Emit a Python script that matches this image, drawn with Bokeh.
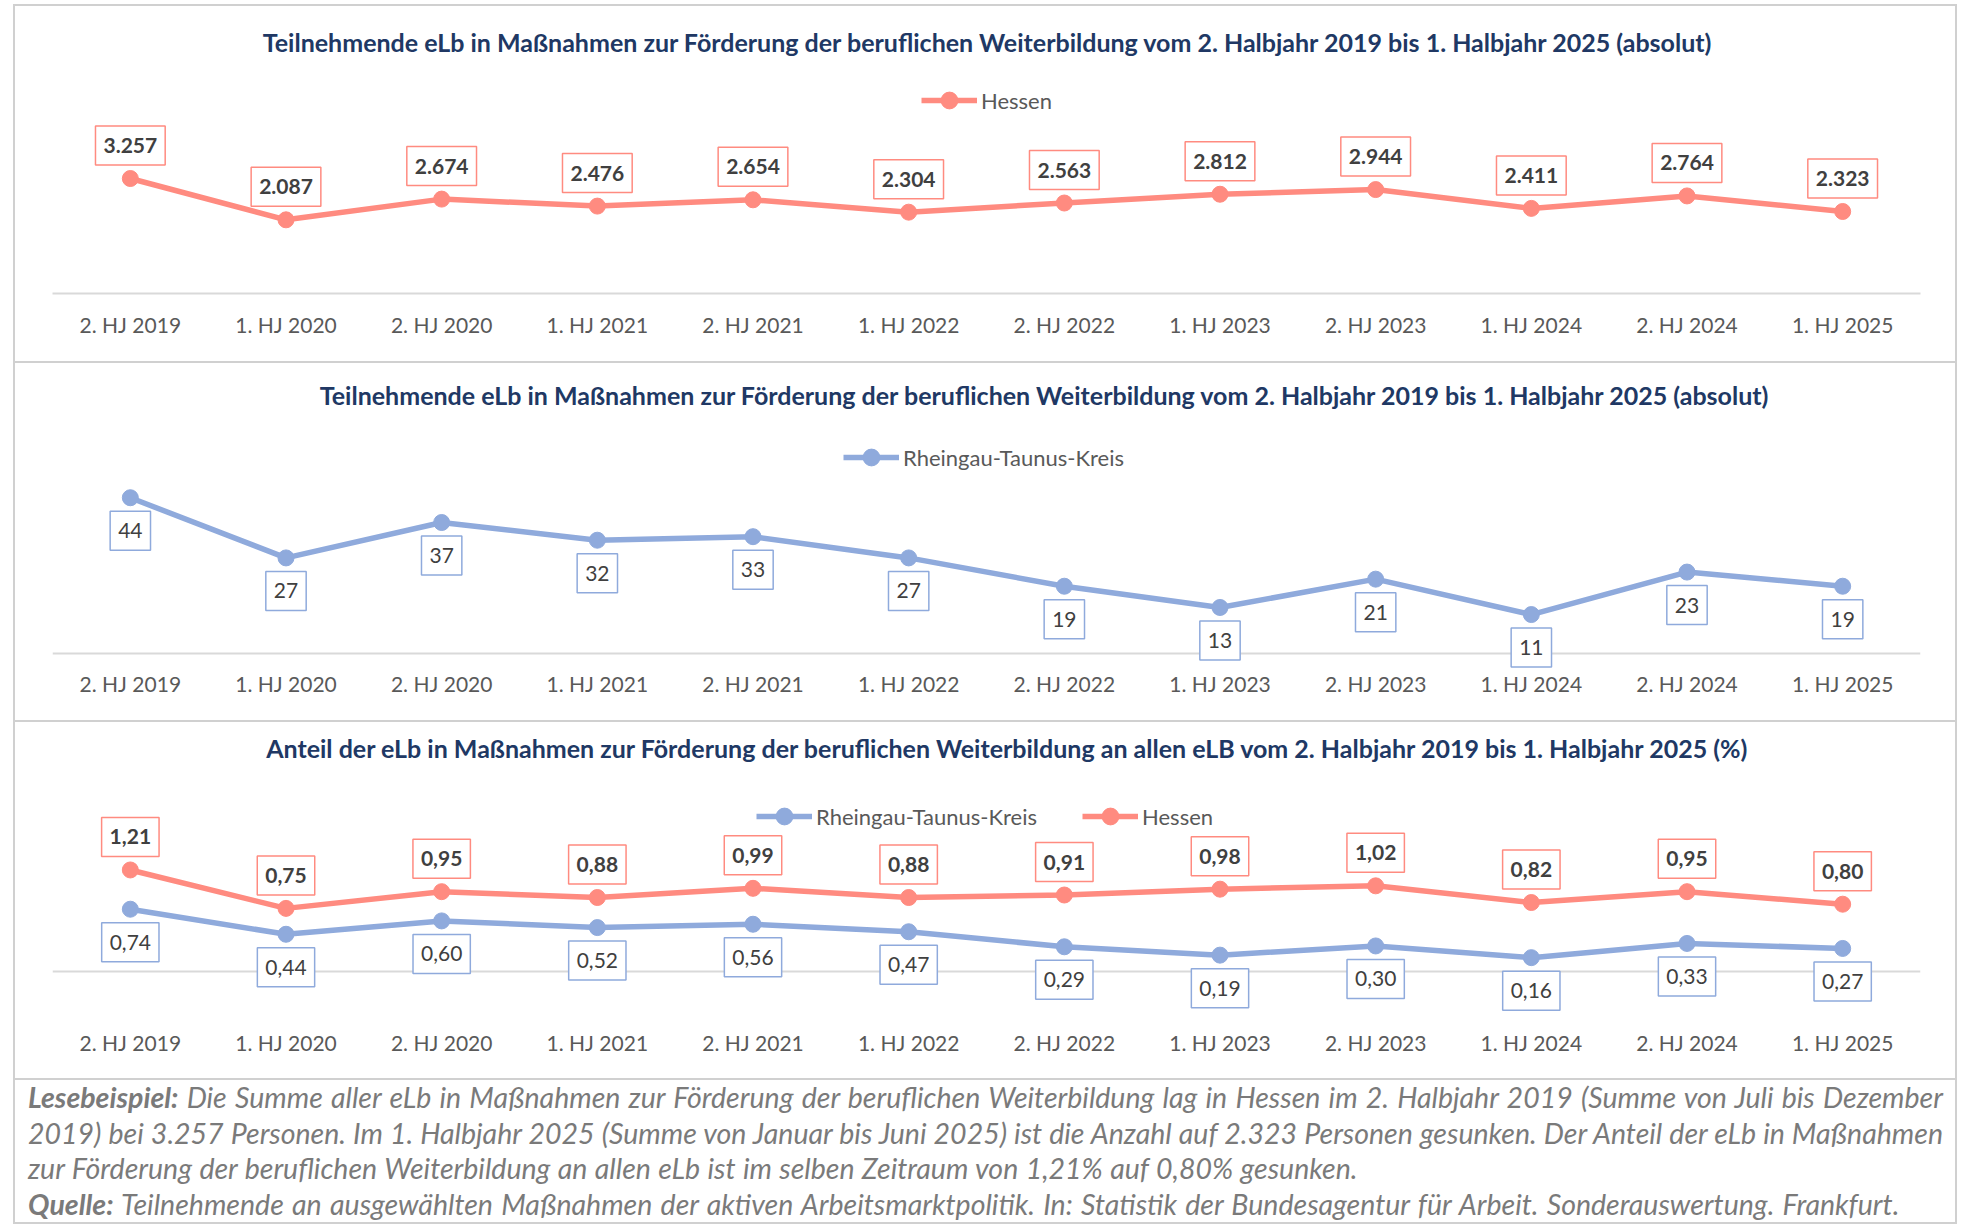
from bokeh.plotting import figure
from bokeh.models import ColumnDataSource, Label, Range1d, FactorRange, FixedTicker, Div
from bokeh.layouts import column
from bokeh.embed import file_html
from bokeh.resources import INLINE

# ---------------- data ----------------
categories = ["2. HJ 2019", "1. HJ 2020", "2. HJ 2020", "1. HJ 2021", "2. HJ 2021", "1. HJ 2022",
              "2. HJ 2022", "1. HJ 2023", "2. HJ 2023", "1. HJ 2024", "2. HJ 2024", "1. HJ 2025"]
hessen_abs = [3257, 2087, 2674, 2476, 2654, 2304, 2563, 2812, 2944, 2411, 2764, 2323]
rtk_abs = [44, 27, 37, 32, 33, 27, 19, 13, 21, 11, 23, 19]
hessen_pct = [1.21, 0.75, 0.95, 0.88, 0.99, 0.88, 0.91, 0.98, 1.02, 0.82, 0.95, 0.80]
rtk_pct = [0.74, 0.44, 0.60, 0.52, 0.56, 0.47, 0.29, 0.19, 0.30, 0.16, 0.33, 0.27]

title_abs = ("Teilnehmende eLb in Maßnahmen zur Förderung der beruflichen Weiterbildung "
             "vom 2. Halbjahr 2019 bis 1. Halbjahr 2025 (absolut)")
title_pct = ("Anteil der eLb in Maßnahmen zur Förderung der beruflichen Weiterbildung an allen eLB "
             "vom 2. Halbjahr 2019 bis 1. Halbjahr 2025 (%)")
name_hessen = "Hessen"
name_rtk = "Rheingau-Taunus-Kreis"

# ---------------- style ----------------
FONT = "Lato"
C_HESSEN = "#FF8B80"
C_RTK = "#8FAADC"
C_TITLE = "#203864"
C_TEXT = "#404040"
C_AXIS = "#595959"
C_GRID = "#d9d9d9"
C_BORDER = "#d0d0d0"
W = 1940


def de_int(v):
    return f"{v:,}".replace(",", ".")


def de_dec(v):
    return f"{v:.2f}".replace(".", ",")


def make_fig(height, y_start, y_end, bottom, standoff, zero_line=False):
    p = figure(x_range=FactorRange(*categories), y_range=Range1d(y_start, y_end),
               width=W, height=height, output_backend="svg", toolbar_location=None,
               y_axis_location=None, min_border_left=37, min_border_right=35,
               min_border_top=0, min_border_bottom=bottom,
               styles={"background-color": "white"})
    p.outline_line_color = None
    p.background_fill_color = "white"
    p.border_fill_color = "white"
    p.xgrid.grid_line_color = None
    if zero_line:
        p.ygrid.ticker = FixedTicker(ticks=[0])
        p.ygrid.grid_line_color = C_GRID
        p.ygrid.grid_line_width = 2
    else:
        p.ygrid.grid_line_color = None
    ax = p.xaxis[0]
    ax.axis_line_color = None if zero_line else C_GRID
    ax.axis_line_width = 2
    ax.major_tick_line_color = None
    ax.minor_tick_line_color = None
    ax.major_tick_out = 0
    ax.major_tick_in = 0
    ax.major_label_text_font = FONT
    ax.major_label_text_font_size = "21px"
    ax.major_label_text_color = C_AXIS
    ax.major_label_standoff = standoff
    return p


def add_title(p, text, x, y):
    p.add_layout(Label(x=x, y=y, x_units="screen", y_units="screen", text=text,
                       text_align="center", text_baseline="middle", text_font=FONT,
                       text_font_style="bold", text_font_size="25px", text_color=C_TITLE))


def add_series(p, yvals, texts, color, offset, bold, legend):
    src = ColumnDataSource(dict(x=categories, y=yvals))
    p.line("x", "y", source=src, line_color=color, line_width=5.5, legend_label=legend)
    p.scatter("x", "y", source=src, size=16, fill_color=color, line_color=color,
              legend_label=legend)
    for i, (yv, t) in enumerate(zip(yvals, texts)):
        p.add_layout(Label(x=i + 0.5, y=yv, text=t, y_offset=offset,
                           text_align="center", text_baseline="middle",
                           text_font=FONT, text_font_size="21px",
                           text_font_style="bold" if bold else "normal",
                           text_color=C_TEXT, background_fill_color="white",
                           border_line_color=color, border_line_width=1.5, padding=(8, 12)))


def style_legend(p, x, y, horizontal=False, spacing=0):
    lg = p.legend[0]
    lg.location = (x, y)
    lg.orientation = "horizontal" if horizontal else "vertical"
    lg.border_line_color = None
    lg.background_fill_alpha = 0
    lg.padding = 0
    lg.margin = 0
    lg.spacing = spacing
    lg.glyph_width = 56
    lg.glyph_height = 42
    lg.label_standoff = 4
    lg.label_text_font = FONT
    lg.label_text_font_size = "22px"
    lg.label_text_color = C_AXIS


# panel 1: Hessen absolute
p1 = make_fig(355, 0, 8130, 68, 18)
add_title(p1, title_abs, 936, 252)
add_series(p1, hessen_abs, [de_int(v) for v in hessen_abs], C_HESSEN, 33, True, name_hessen)
style_legend(p1, 869, 172)

# panel 2: RTK absolute (frame extends below zero so low labels stay visible)
p2 = make_fig(357, -4.24, 81.92, 52, 2, zero_line=True)
add_title(p2, title_abs, 993, 274)
add_series(p2, rtk_abs, [str(v) for v in rtk_abs], C_RTK, -33, False, name_rtk)
style_legend(p2, 791, 190)

# panel 3: shares
p3 = make_fig(356, -0.485, 2.976, 67, 18, zero_line=True)
add_title(p3, title_pct, 956, 264)
add_series(p3, rtk_pct, [de_dec(v) for v in rtk_pct], C_RTK, -33, False, name_rtk)
add_series(p3, hessen_pct, [de_dec(v) for v in hessen_pct], C_HESSEN, 33, True, name_hessen)
style_legend(p3, 704, 174, horizontal=True, spacing=45)

# footer
line_style = "text-align: justify; text-align-last: justify; white-space: nowrap;"
line3_style = "text-align: left; white-space: nowrap; word-spacing: 0.7px;"
line4_style = "text-align: left; white-space: nowrap; word-spacing: 1.6px;"
footer_html = (
    f'<div style="box-sizing: border-box; width: {W}px; padding: 0 12px 0 13px; '
    f'font-family: Lato; font-style: italic; font-size: 28.5px; color: #7a7a7a; line-height: 35.5px;">'
    f'<div style="{line_style}"><b>Lesebeispiel:</b> Die Summe aller eLb in Maßnahmen zur Förderung der '
    f'beruflichen Weiterbildung lag in Hessen im 2. Halbjahr 2019 (Summe von Juli bis Dezember</div>'
    f'<div style="{line_style}">2019) bei {de_int(hessen_abs[0])} Personen. Im 1. Halbjahr 2025 (Summe von '
    f'Januar bis Juni 2025) ist die Anzahl auf {de_int(hessen_abs[-1])} Personen gesunken. Der Anteil der eLb in Maßnahmen</div>'
    f'<div style="{line3_style}">zur Förderung der beruflichen Weiterbildung an allen eLb ist im selben Zeitraum '
    f'von {de_dec(hessen_pct[0])}% auf {de_dec(hessen_pct[-1])}% gesunken.</div>'
    f'<div style="{line4_style}"><b>Quelle:</b> Teilnehmende an ausgewählten Maßnahmen der aktiven '
    f'Arbeitsmarktpolitik. In: Statistik der Bundesagentur für Arbeit. Sonderauswertung. Frankfurt.</div>'
    f'</div>'
)
footer = Div(text=footer_html, width=W, height=142, margin=0,
             styles={"background-color": "white", "overflow": "hidden"})

layout = column(p1, p2, p3, footer, spacing=2,
                styles={"background-color": C_BORDER, "padding": "2px",
                        "margin-left": "13px", "margin-top": "4px"})

open("out.html", "w").write(file_html(layout, INLINE))
